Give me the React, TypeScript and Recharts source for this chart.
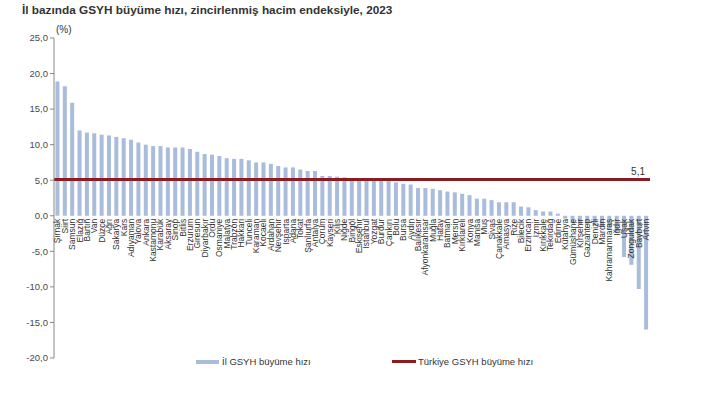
import React from "react";
import {
  BarChart,
  Bar,
  XAxis,
  YAxis,
  ReferenceLine,
  LabelList,
} from "recharts";

const provinces = [
  "Şırnak", "Siirt", "Samsun", "Elazığ", "Bartın", "Van", "Düzce", "Ağrı", "Sakarya", "Kars",
  "Adıyaman", "Yalova", "Ankara", "Kastamonu", "Karabük", "Aksaray", "Sinop", "Bitlis", "Erzurum", "Giresun",
  "Diyarbakır", "Ordu", "Osmaniye", "Malatya", "Trabzon", "Hakkari", "Tunceli", "Karaman", "Kocaeli", "Ardahan",
  "Nevşehir", "Isparta", "Adana", "Tokat", "Şanlıurfa", "Antalya", "Çorum", "Kayseri", "Kilis", "Niğde",
  "Bingöl", "Eskişehir", "İstanbul", "Yozgat", "Burdur", "Çankırı", "Bolu", "Bursa", "Aydın", "Balıkesir",
  "Afyonkarahisar", "Muğla", "Hatay", "Batman", "Mersin", "Kırklareli", "Konya", "Manisa", "Muş", "Sivas",
  "Çanakkale", "Amasya", "Rize", "Bilecik", "Erzincan", "İzmir", "Kırıkkale", "Tekirdağ", "Edirne", "Kütahya",
  "Gümüşhane", "Kırşehir", "Gaziantep", "Denizli", "Mardin", "Kahramanmaraş", "Iğdır", "Uşak", "Zonguldak", "Bayburt",
  "Artvin",
];

const growth = [
  18.9, 18.2, 15.9, 12.0, 11.7, 11.6, 11.4, 11.3, 11.1, 10.9,
  10.7, 10.3, 10.0, 9.8, 9.8, 9.6, 9.6, 9.6, 9.4, 9.0,
  8.7, 8.6, 8.4, 8.1, 8.0, 8.0, 7.8, 7.5, 7.5, 7.3,
  7.0, 6.8, 6.8, 6.5, 6.3, 6.3, 5.6, 5.6, 5.5, 5.4,
  5.2, 5.1, 5.1, 5.0, 5.0, 5.0, 4.7, 4.5, 4.4, 3.9,
  3.9, 3.8, 3.6, 3.4, 3.3, 3.1, 2.9, 2.4, 2.4, 2.2,
  1.9, 1.9, 1.9, 1.3, 1.2, 0.8, 0.6, 0.6, 0.3, -0.4,
  -1.0, -1.2, -1.3, -1.4, -1.6, -1.9, -2.4, -5.8, -6.9, -10.3,
  -16.0,
];

const turkiyeRate = 5.1;
const yTicks = [-20, -15, -10, -5, 0, 5, 10, 15, 20, 25];

const data = provinces.map((name, i) => ({ name, growth: growth[i] }));

const fmt = (v: number) => v.toFixed(1).replace(".", ",");

const FONT = "'Liberation Sans', Arial, sans-serif";

// province names sit on the zero line, rotated, like the original
const ProvinceLabel = (props: any) => {
  const { x, y, width, height, index, value } = props;
  const cx = Number(x) + Number(width) / 2;
  const top = Number(y);
  const bottom = Number(y) + Number(height);
  const base = Number(value) >= 0 ? Math.max(top, bottom) : Math.min(top, bottom);
  return (
    <text
      transform={`translate(${cx}, ${base + 3}) rotate(-90)`}
      textAnchor="end"
      dy="0.35em"
      fontSize={8.5}
      fontFamily={FONT}
      fill="#333"
    >
      {provinces[index]}
    </text>
  );
};

export default function App() {
  return (
    <div
      style={{
        position: "fixed",
        left: 0,
        top: 0,
        width: 702,
        height: 395,
        background: "#fff",
        fontFamily: FONT,
      }}
    >
      <div
        style={{
          position: "absolute",
          left: 22,
          top: 3,
          fontSize: 11.8,
          fontWeight: "bold",
          color: "#333",
          whiteSpace: "nowrap",
        }}
      >
        İl bazında GSYH büyüme hızı, zincirlenmiş hacim endeksiyle, 2023
      </div>
      <div style={{ position: "absolute", left: 56, top: 24, fontSize: 10, color: "#333" }}>(%)</div>

      <BarChart
        width={702}
        height={395}
        data={data}
        margin={{ top: 38, right: 52, bottom: 37, left: 0 }}
        barCategoryGap="20%"
      >
        <XAxis dataKey="name" hide />
        <YAxis
          width={54}
          domain={[-20, 25]}
          ticks={yTicks}
          interval={0}
          tickFormatter={fmt}
          tick={{ fontSize: 9.5, fill: "#4a4a4a", fontFamily: FONT }}
          tickSize={4}
          axisLine={{ stroke: "#888" }}
          tickLine={{ stroke: "#888" }}
        />
        <Bar dataKey="growth" fill="#a9bcdb" isAnimationActive={false}>
          <LabelList dataKey="growth" content={ProvinceLabel} />
        </Bar>
        <ReferenceLine
          y={turkiyeRate}
          stroke="#8b1c22"
          strokeWidth={3}
          label={{
            value: fmt(turkiyeRate),
            position: "insideBottomRight",
            offset: 5,
            fontSize: 10,
            fill: "#333",
            fontFamily: FONT,
          }}
        />
      </BarChart>

      <div
        style={{
          position: "absolute",
          left: 196,
          top: 356,
          display: "flex",
          alignItems: "center",
          fontSize: 9.5,
          color: "#333",
        }}
      >
        <span style={{ display: "inline-block", width: 23, height: 4, background: "#a9bcdb", marginRight: 3 }} />
        <span>İl GSYH büyüme hızı</span>
      </div>
      <div
        style={{
          position: "absolute",
          left: 392,
          top: 356,
          display: "flex",
          alignItems: "center",
          fontSize: 9.5,
          color: "#333",
        }}
      >
        <span style={{ display: "inline-block", width: 24, height: 3, background: "#8b1c22", marginRight: 2 }} />
        <span>Türkiye GSYH büyüme hızı</span>
      </div>
    </div>
  );
}
